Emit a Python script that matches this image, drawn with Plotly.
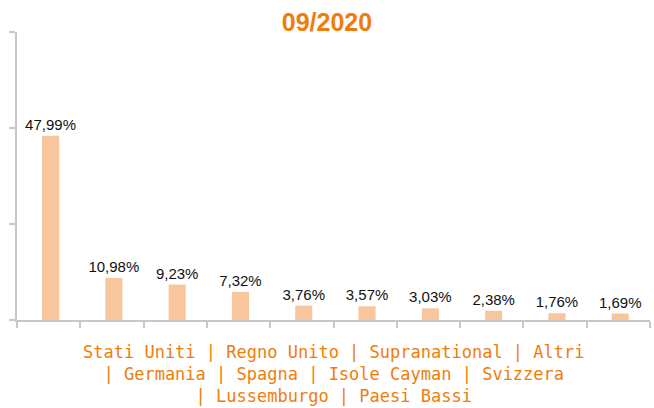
import plotly.graph_objects as go

categories = ["Stati Uniti", "Regno Unito", "Supranational", "Altri", "Germania",
              "Spagna", "Isole Cayman", "Svizzera", "Lussemburgo", "Paesi Bassi"]
values = [47.99, 10.98, 9.23, 7.32, 3.76, 3.57, 3.03, 2.38, 1.76, 1.69]
labels = ["47,99%", "10,98%", "9,23%", "7,32%", "3,76%", "3,57%", "3,03%", "2,38%", "1,76%", "1,69%"]
title_text = "09/2020"
x_title = "Stati Uniti | Regno Unito | Supranational | Altri<br>| Germania | Spagna | Isole Cayman | Svizzera<br>| Lussemburgo | Paesi Bassi"

orange = "#F07D0A"
axis_col = "#C8C8C8"

fig = go.Figure(go.Bar(
    x=categories, y=values, text=labels, textposition="outside",
    constraintext="none",
    textfont=dict(family="Liberation Sans, Arial", size=15, color="#111111"),
    marker=dict(color="#F7C69C", line=dict(width=0)),
    width=0.27, offset=-0.105, cliponaxis=False,
))

fig.update_layout(
    width=654, height=408,
    margin=dict(l=17, r=4, t=32, b=88),
    plot_bgcolor="white", paper_bgcolor="white",
    showlegend=False,
    title=dict(text="<b>" + title_text + "</b>", x=0.5, xanchor="center", y=0.945, yanchor="middle",
               font=dict(family="Liberation Sans, Arial", size=25, color=orange)),
    xaxis=dict(showticklabels=False, showline=True, linecolor=axis_col, linewidth=2,
               ticks="outside", tickson="boundaries", ticklen=6, tickcolor=axis_col, tickwidth=2,
               showgrid=False, range=[-0.5, 9.5]),
    yaxis=dict(range=[0, 75], dtick=25, showticklabels=False, showline=True, linecolor=axis_col,
               linewidth=2, ticks="outside", ticklen=6, tickcolor=axis_col, tickwidth=2,
               showgrid=False, zeroline=False),
)

fig.add_annotation(text=x_title, xref="paper", yref="paper", x=0.5, y=-0.07,
                   xanchor="center", yanchor="top", showarrow=False, align="center",
                   font=dict(family="DejaVu Sans Mono", size=17, color=orange))

fig.write_html("out.html")
